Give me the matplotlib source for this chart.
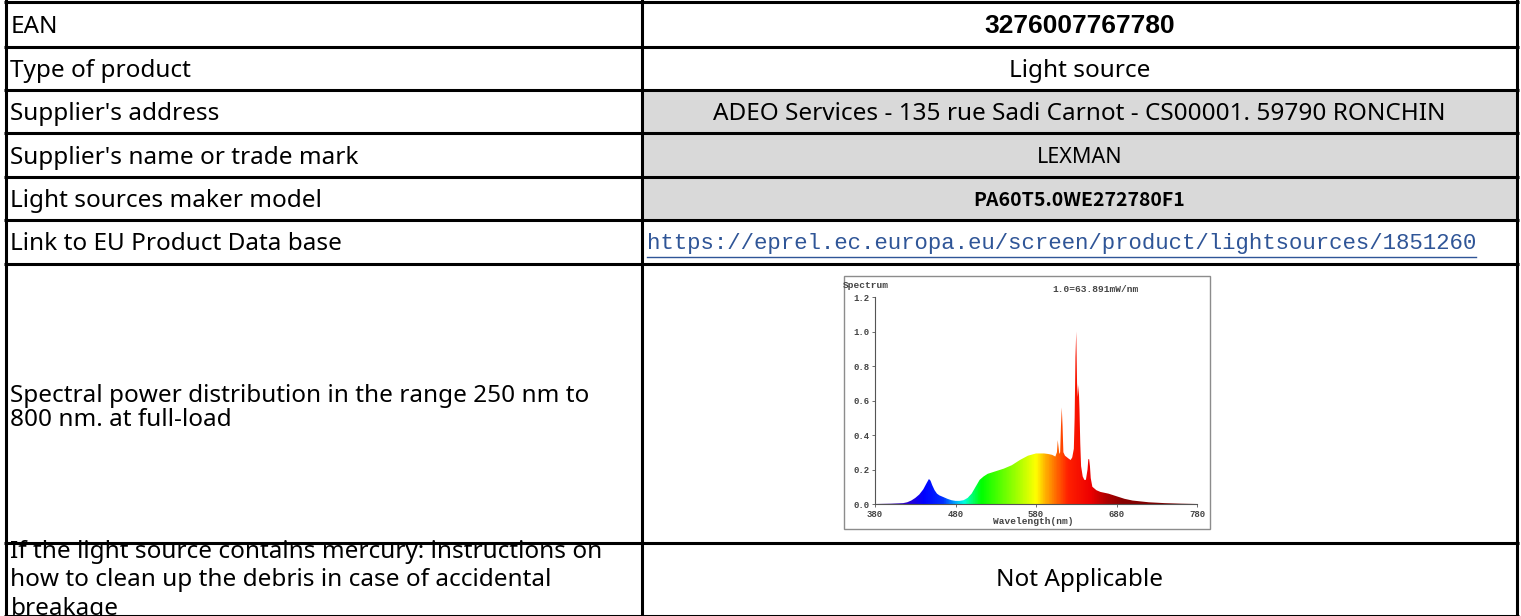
import numpy as np
import matplotlib
matplotlib.use("Agg")
import matplotlib.pyplot as plt
from matplotlib.patches import Rectangle, Polygon
from matplotlib.colors import LinearSegmentedColormap

# table content
labels = ["EAN", "Type of product", "Supplier's address", "Supplier's name or trade mark",
          "Light sources maker model", "Link to EU Product Data base",
          "Spectral power distribution in the range 250 nm to\n800 nm. at full-load",
          "If the light source contains mercury: instructions on\nhow to clean up the debris in case of accidental\nbreakage"]
values = ["3276007767780", "Light source",
          "ADEO Services - 135 rue Sadi Carnot - CS00001. 59790 RONCHIN",
          "LEXMAN", "PA60T5.0WE272780F1",
          "https://eprel.ec.europa.eu/screen/product/lightsources/1851260",
          None, "Not Applicable"]
shaded = [False, False, True, True, True, False, False, False]

# spectrum (relative, 1.0 = 63.891 mW/nm)
wl = [380, 400, 415, 420, 425, 430, 435, 440, 444, 447, 449, 451, 454, 457, 460, 465, 470,
      475, 480, 485, 490, 495, 500, 505, 510, 515, 520, 530, 540, 550, 560, 570, 580, 590,
      595, 600, 604, 606, 607, 608, 609, 610, 611, 612, 613, 614, 616, 620, 623, 625, 627,
      628, 629, 630, 631, 632, 633, 634, 635, 636, 638, 640, 642, 644, 645, 646, 647, 648,
      650, 655, 660, 670, 680, 690, 700, 720, 740, 760, 780]
rel = [0.0, 0.002, 0.005, 0.01, 0.02, 0.035, 0.055, 0.085, 0.12, 0.145, 0.135, 0.11, 0.08,
       0.06, 0.05, 0.04, 0.03, 0.022, 0.018, 0.018, 0.022, 0.035, 0.06, 0.1, 0.14, 0.16,
       0.175, 0.19, 0.205, 0.225, 0.255, 0.28, 0.293, 0.293, 0.29, 0.285, 0.275, 0.3, 0.37,
       0.33, 0.29, 0.3, 0.45, 0.56, 0.45, 0.3, 0.28, 0.265, 0.255, 0.27, 0.32, 0.5, 0.85,
       1.0, 0.7, 0.62, 0.69, 0.55, 0.35, 0.22, 0.16, 0.14, 0.14, 0.2, 0.26, 0.26, 0.22,
       0.15, 0.1, 0.08, 0.07, 0.06, 0.045, 0.03, 0.02, 0.01, 0.005, 0.002, 0.0]
x_ticks = [380, 480, 580, 680, 780]
y_ticks = [0.0, 0.2, 0.4, 0.6, 0.8, 1.0, 1.2]

W, H = 1521, 616
row_edges = [1.5, 47, 90, 133, 177, 220, 264, 543, 615.5]
col_edges = [5.5, 642, 1517]

fig = plt.figure(figsize=(W / 100, H / 100), dpi=100)
ax = fig.add_axes([0, 0, 1, 1])
ax.set_xlim(0, W)
ax.set_ylim(H, 0)
ax.axis("off")

txt_font = ["Noto Sans", "DejaVu Sans"]
line_sp = [1.0] * 6 + [1.0, 1.26]
y_shift = [2.5] * 6 + [4, 1]

for i in range(len(labels)):
    y0, y1 = row_edges[i], row_edges[i + 1]
    yc = (y0 + y1) / 2
    if shaded[i]:
        ax.add_patch(Rectangle((col_edges[1], y0), col_edges[2] - col_edges[1], y1 - y0,
                               facecolor="#d9d9d9", edgecolor="none", zorder=0))
    clip = Rectangle((col_edges[0], y0), col_edges[1] - col_edges[0], y1 - y0,
                     transform=ax.transData, facecolor="none", edgecolor="none")
    t = ax.text(col_edges[0] + 5, yc + y_shift[i], labels[i], ha="left", va="center",
                fontsize=17.5, family=txt_font, linespacing=line_sp[i], color="black")
    t.set_clip_path(clip)
    v = values[i]
    if v is None:
        continue
    xc = (col_edges[1] + col_edges[2]) / 2
    yv = yc + y_shift[i]
    if i == 0:
        ax.text(xc, yv - 1, v, ha="center", va="center", fontsize=19, fontweight="bold",
                family="Liberation Sans", color="black")
    elif i == 4:
        ax.text(xc, yv - 1, v, ha="center", va="center", fontsize=14, fontweight="bold",
                family=["Noto Sans CJK SC", "DejaVu Sans"], color="black")
    elif i == 5:
        lt = ax.text(col_edges[1] + 5, yv - 1, v, ha="left", va="center", fontsize=16.1,
                     family="Liberation Mono", color="#2f5597")
    elif i == 3:
        ax.text(xc, yv, v, ha="center", va="center", fontsize=15.5,
                family=txt_font, color="black")
    else:
        ax.text(xc, yv, v, ha="center", va="center", fontsize=17.5,
                family=txt_font, color="black")

# grid lines
for y in row_edges:
    ax.plot([col_edges[0] - 1.5, col_edges[2] + 1.5], [y, y], color="black", lw=2.2,
            solid_capstyle="butt", zorder=3)
for x in col_edges:
    ax.plot([x, x], [0, H], color="black", lw=2.2, zorder=3)

# underline for the hyperlink
fig.canvas.draw()
bb = lt.get_window_extent().transformed(ax.transData.inverted())
ax.plot([bb.x0, bb.x1], [257, 257], color="#2f5597", lw=1.0)

# embedded spectrum picture
ax.add_patch(Rectangle((844, 276), 366, 253, facecolor="white", edgecolor="#8c8c8c",
                       lw=1.0, zorder=2))
mono = "Liberation Mono"
ax.text(843, 286, "Spectrum", fontsize=6.8, family=mono, fontweight="bold",
        color="#444444", ha="left", va="center", zorder=4)
ax.text(1095, 289, "1.0=63.891mW/nm", fontsize=6.8, family=mono, fontweight="bold",
        color="#444444", ha="center", va="center", zorder=4)
ax.text(1033, 521, "Wavelength(nm)", fontsize=6.8, family=mono, fontweight="bold",
        color="#444444", ha="center", va="center", zorder=4)

sx0, sx1, sy0, sy1 = 875, 1197, 504, 297
sax = fig.add_axes([sx0 / W, 1 - sy0 / H, (sx1 - sx0) / W, (sy0 - sy1) / H])
sax.set_xlim(380, 780)
sax.set_ylim(0, 1.2)
sax.patch.set_alpha(0)
for s in ["top", "right"]:
    sax.spines[s].set_visible(False)
for s in ["left", "bottom"]:
    sax.spines[s].set_color("#555555")
    sax.spines[s].set_linewidth(0.8)
sax.set_xticks(x_ticks)
sax.set_xticklabels([str(v) for v in x_ticks])
sax.set_yticks(y_ticks)
sax.set_yticklabels([f"{v:.1f}" for v in y_ticks])
sax.tick_params(labelsize=6.5, length=2.5, width=0.6, color="#555555", pad=1.5,
                labelcolor="#444444")
for lab in sax.get_xticklabels() + sax.get_yticklabels():
    lab.set_family(mono)
    lab.set_fontweight("bold")

spec_cmap = LinearSegmentedColormap.from_list("spec", [
    (0.0, "#3a0080"), (0.1, "#2a00d0"), (0.15, "#0000ff"), (0.21, "#0030ff"),
    (0.25, "#00b0ff"), (0.275, "#00ffe0"), (0.3, "#00ff70"), (0.33, "#00ff00"),
    (0.45, "#b0ff00"), (0.5, "#ffff00"), (0.53, "#ffb000"), (0.56, "#ff7000"),
    (0.6, "#ff2000"), (0.67, "#ee0000"), (0.72, "#b00000"), (0.77, "#880000"),
    (1.0, "#700000")])
grad = np.linspace(0, 1, 400).reshape(1, -1)
im = sax.imshow(grad, cmap=spec_cmap, extent=[380, 780, 0, 1.2], aspect="auto",
                origin="lower", interpolation="bilinear")
verts = [(380, 0)] + list(zip(wl, rel)) + [(780, 0)]
poly = Polygon(verts, closed=True, facecolor="none", edgecolor="none",
               transform=sax.transData)
sax.add_patch(poly)
im.set_clip_path(poly)

fig.savefig("out.png", dpi=100)
